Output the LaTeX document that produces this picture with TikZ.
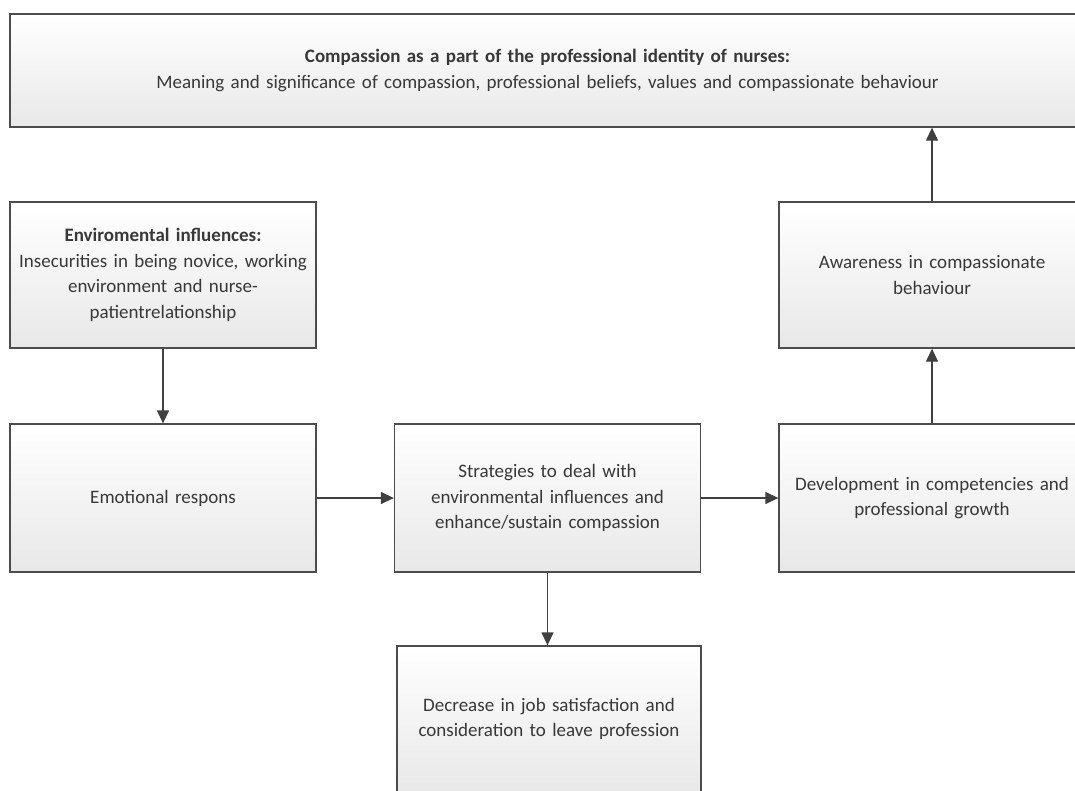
\documentclass[tikz,border=0pt]{standalone}
\usepackage{fontspec}
\setmainfont{Carlito}
\usetikzlibrary{arrows.meta}

\begin{document}
\begin{tikzpicture}[x=1pt,y=-1pt,
  box/.style={draw=black!70, line width=1.3pt, top color=white, bottom color=black!9,
    minimum width=306pt, minimum height=146pt, align=center, text width=304pt,
    inner sep=0pt, text=black!78, font=\fontsize{19}{25.5}\selectfont},
  flow/.style={draw=black!75, line width=1.3pt, -{Triangle[length=13pt,width=12pt]}}]
  \useasboundingbox (0,0) rectangle (1075,790);
  \fill[white] (0,0) rectangle (1075,790);

  \node [box, minimum width=1075pt, minimum height=113pt, text width=1000pt] (identity) at (547.5,70.5)
    {\textbf{Compassion as a part of the professional identity of nurses:}\\
     Meaning and significance of compassion, professional beliefs, values and compassionate behaviour};
  \node [box] (environment) at (163,275)
    {\textbf{Enviromental influences:}\\Insecurities in being novice, working\\environment and nurse-\\patientrelationship};
  \node [box, minimum height=148pt] (emotional) at (163,498) {Emotional respons};
  \node [box, minimum height=148pt] (strategies) at (547.5,498)
    {Strategies to deal with\\environmental influences and\\enhance/sustain compassion};
  \node [box, minimum height=148pt] (development) at (932,498)
    {Development in competencies and\\professional growth};
  \node [box] (awareness) at (932,275) {Awareness in compassionate\\behaviour};
  \node [box, minimum width=302pt] (decrease) at (549,719)
    {Decrease in job satisfaction and\\consideration to leave profession};

  \draw [flow] (environment) -- (emotional);
  \draw [flow] (emotional) -- (strategies);
  \draw [flow] (strategies) -- (development);
  \draw [flow] (strategies) -- (strategies |- decrease.north);
  \draw [flow] (development) -- (awareness);
  \draw [flow] (awareness) -- (awareness |- identity.south);
\end{tikzpicture}
\end{document}
